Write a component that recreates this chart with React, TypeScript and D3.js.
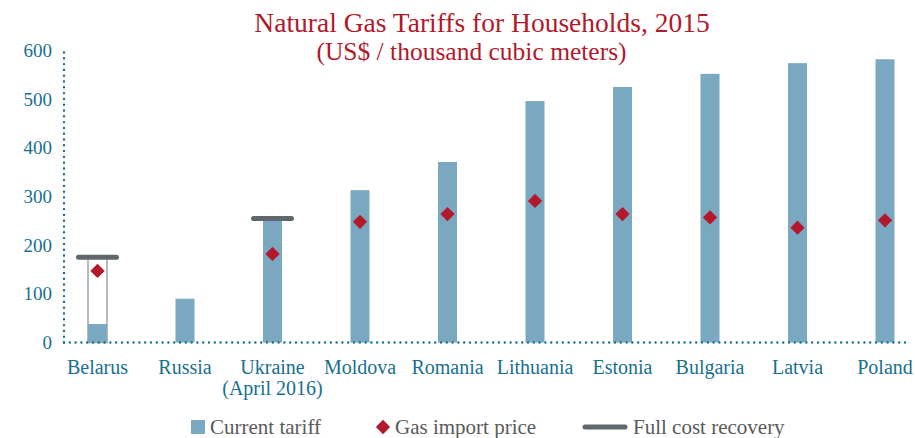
import React from "react";
import * as d3 from "d3";

const categories = ["Belarus", "Russia", "Ukraine", "Moldova", "Romania", "Lithuania", "Estonia", "Bulgaria", "Latvia", "Poland"];
const categoryLabels = [["Belarus"], ["Russia"], ["Ukraine", "(April 2016)"], ["Moldova"], ["Romania"], ["Lithuania"], ["Estonia"], ["Bulgaria"], ["Latvia"], ["Poland"]];
const currentTariff = [38, 90, 252, 313, 371, 496, 525, 552, 574, 582];
const gasImportPrice: (number | null)[] = [147, null, 182, 248, 264, 291, 264, 257, 236, 251];
const fullCostRecovery: (number | null)[] = [175, null, 255, null, null, null, null, null, null, null];
const yTicks = [0, 100, 200, 300, 400, 500, 600];

const TEAL = "#17708e";
const BAR = "#7aa8c0";
const RED = "#b3182c";
const GREY_LINE = "#5f686c";
const FONT = "'Liberation Serif', serif";

export default function App() {
  const W = 915, H = 438;
  const x = d3.scalePoint<string>().domain(categories).range([97.5, 885]);
  const y = d3.scaleLinear().domain([0, 600]).range([342.5, 50.5]);
  const axisLeft = 64, axisRight = 909;
  const bw = 19;
  const diamond = d3.symbol().type(d3.symbolDiamond2).size(130)();

  return (
    <svg width={W} height={H} style={{ position: "absolute", left: 0, top: 0, background: "#fff" }}>
      <text x={482} y={32} textAnchor="middle" fill={RED} fontFamily={FONT} fontSize={27.5}>Natural Gas Tariffs for Households, 2015</text>
      <text x={471.5} y={59.5} textAnchor="middle" fill={RED} fontFamily={FONT} fontSize={25.5}>(US$ / thousand cubic meters)</text>

      {yTicks.map(t => (
        <text key={t} x={52} y={y(t)} dy="0.34em" textAnchor="end" fill={TEAL} fontFamily={FONT} fontSize={19}>{t}</text>
      ))}

      {categories.map((c, i) => {
        const cx = x(c)!;
        const fc = fullCostRecovery[i];
        return (
          <g key={c}>
            {fc != null && c === "Belarus" && (
              <rect x={cx - bw / 2} y={y(fc)} width={bw} height={y(0) - y(fc)} fill="#fff" stroke="#aeb2b5" strokeWidth={1.8} />
            )}
            <rect x={cx - bw / 2} y={y(currentTariff[i])} width={bw} height={y(0) - y(currentTariff[i])} fill={BAR} />
          </g>
        );
      })}

      {categories.map((c, i) => {
        const fc = fullCostRecovery[i];
        if (fc == null) return null;
        const cx = x(c)!;
        return <line key={c} x1={cx - 19} x2={cx + 19} y1={y(fc)} y2={y(fc)} stroke={GREY_LINE} strokeWidth={5} strokeLinecap="round" />;
      })}

      {categories.map((c, i) => {
        const v = gasImportPrice[i];
        if (v == null) return null;
        return <path key={c} d={diamond!} transform={`translate(${x(c)},${y(v)})`} fill={RED} />;
      })}

      <line x1={axisLeft} x2={axisLeft} y1={y(0)} y2={y(600) - 2} stroke={TEAL} strokeWidth={2.4} strokeDasharray="0 5.8" strokeLinecap="round" />
      <line x1={axisLeft} x2={axisRight} y1={y(0)} y2={y(0)} stroke={TEAL} strokeWidth={2.4} strokeDasharray="0 5.8" strokeLinecap="round" />

      {categories.map((c, i) => (
        <text key={c} x={x(c)} y={374} textAnchor="middle" fill={TEAL} fontFamily={FONT} fontSize={20}>
          {categoryLabels[i].map((l, j) => (
            <tspan key={j} x={x(c)} dy={j === 0 ? 0 : 20.5}>{l}</tspan>
          ))}
        </text>
      ))}

      <g fontFamily={FONT} fontSize={21} fill="#5a5a5a">
        <rect x={191} y={420} width={14} height={14} fill={BAR} />
        <text x={210} y={433.5}>Current tariff</text>
        <path d={diamond!} transform="translate(383,427)" fill={RED} />
        <text x={395} y={433.5}>Gas import price</text>
        <line x1={585} x2={625} y1={427} y2={427} stroke={GREY_LINE} strokeWidth={5} strokeLinecap="round" />
        <text x={633} y={433.5}>Full cost recovery</text>
      </g>
    </svg>
  );
}
